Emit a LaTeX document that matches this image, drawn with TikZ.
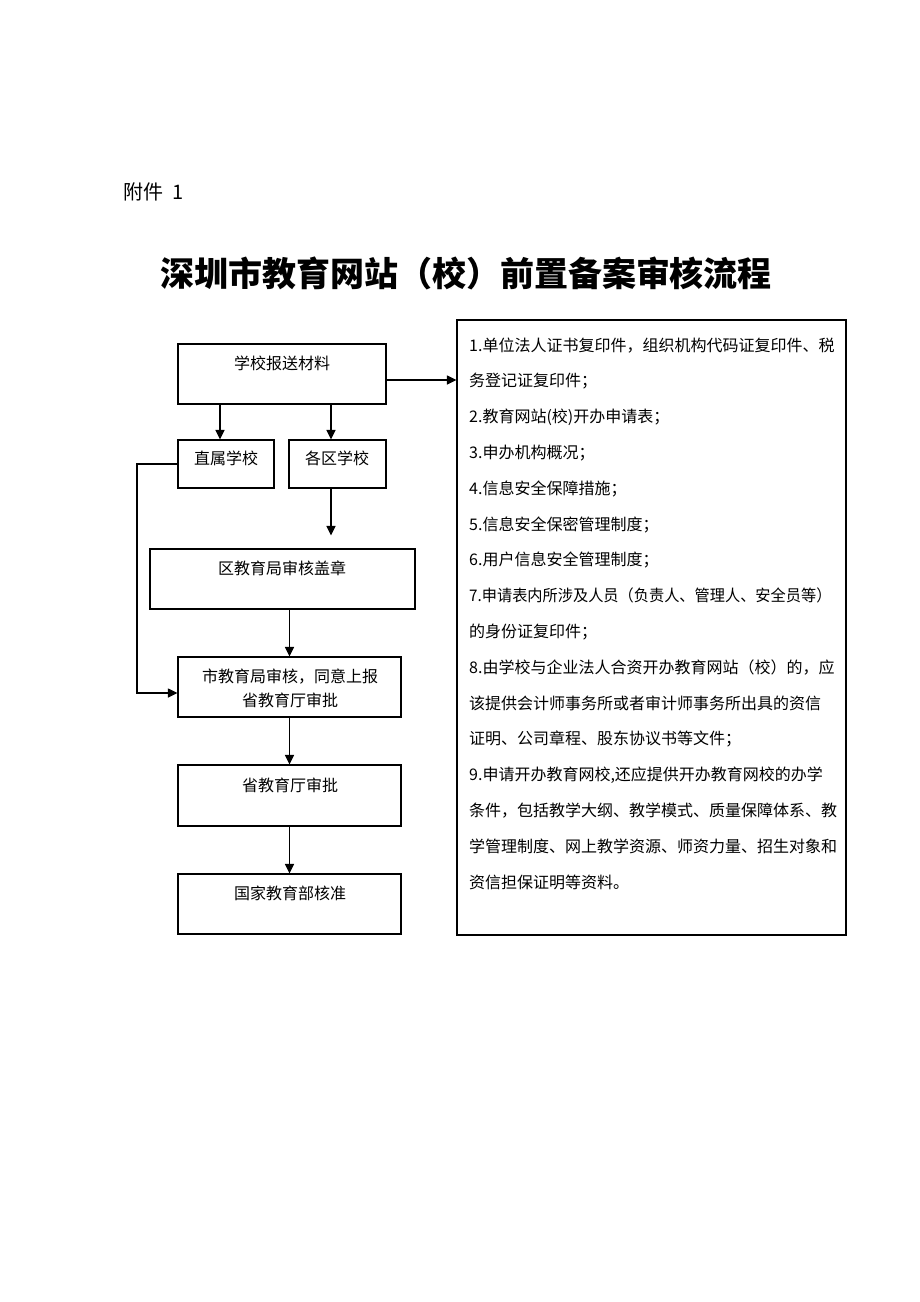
\documentclass[tikz,border=0pt]{standalone}
\usepackage{fontspec}
\newfontfamily\cjk{Noto Sans CJK SC}
\usetikzlibrary{arrows.meta}
\begin{document}
\begin{tikzpicture}[x=1pt,y=-1pt,
  box/.style={draw,line width=1.1pt,inner sep=0},
  lbl/.style={font=\cjk\fontsize{16}{16}\selectfont, anchor=base, inner sep=0},
  item/.style={font=\cjk\fontsize{16}{16}\selectfont, anchor=base west, inner sep=0},
  arr/.style={line width=1.1pt,-{Triangle[length=9.5pt,width=9pt]}},
  thickarr/.style={line width=1.6pt,-{Triangle[length=9.5pt,width=9pt]}}]
\useasboundingbox[fill=white] (0,0) rectangle (920,1302);

% header
\node[font=\cjk\fontsize{20}{20}\selectfont, anchor=base west, inner sep=0] (att) at (123,199) {附件\hspace{0.45em}1};
\node[font=\cjk\bfseries\fontsize{34}{34}\selectfont, anchor=base, inner sep=0] (title) at (466,286) {深圳市教育网站（校）前置备案审核流程};

% boxes
\node[box, minimum width=208pt, minimum height=60pt] (bs) at (282,374) {};
\node[box, minimum width=96pt, minimum height=48pt] (zs) at (226,464) {};
\node[box, minimum width=97pt, minimum height=48pt] (gq) at (337.5,464) {};
\node[box, minimum width=265pt, minimum height=60pt] (qj) at (282.5,579) {};
\node[box, minimum width=223pt, minimum height=60pt] (sj) at (289.5,687) {};
\node[box, minimum width=223pt, minimum height=61pt] (sh) at (289.5,795.5) {};
\node[box, minimum width=223pt, minimum height=60pt] (gj) at (289.5,904) {};
\node[box, minimum width=389pt, minimum height=615pt] (rb) at (651.5,627.5) {};

% box texts
\node[lbl] (tbs) at (282,369) {学校报送材料};
\node[lbl] (tzs) at (226,464) {直属学校};
\node[lbl] (tgq) at (337,464) {各区学校};
\node[lbl] (tqj) at (282,574) {区教育局审核盖章};
\node[lbl] (tsj1) at (290,682) {市教育局审核，同意上报};
\node[lbl] (tsj2) at (290,706) {省教育厅审批};
\node[lbl] (tsh) at (290,791) {省教育厅审批};
\node[lbl] (tgj) at (290,899) {国家教育部核准};

% right box items
\foreach \t [count=\i] in {
  {1.单位法人证书复印件，组织机构代码证复印件、税},
  {务登记证复印件；},
  {2.教育网站(校)开办申请表；},
  {3.申办机构概况；},
  {4.信息安全保障措施；},
  {5.信息安全保密管理制度；},
  {6.用户信息安全管理制度；},
  {\scalebox{0.95}[1]{7.申请表内所涉及人员（负责人、管理人、安全员等）}},
  {的身份证复印件；},
  {8.由学校与企业法人合资开办教育网站（校）的，应},
  {该提供会计师事务所或者审计师事务所出具的资信},
  {证明、公司章程、股东协议书等文件；},
  {9.申请开办教育网校,还应提供开办教育网校的办学},
  {条件，包括教学大纲、教学模式、质量保障体系、教},
  {学管理制度、网上教学资源、师资力量、招生对象和},
  {资信担保证明等资料。}}
  \node[item] (r\i) at (469,{351+35.8*(\i-1)}) {\t};

% connectors
\draw[thickarr] ([xshift=-62pt]bs.south) -- ([xshift=-62pt]bs.south |- zs.north);
\draw[thickarr] ([xshift=49pt]bs.south) -- ([xshift=49pt]bs.south |- gq.north);
\draw[arr, shorten >=13pt] ([xshift=-6.5pt]gq.south) -- ([xshift=-6.5pt]gq.south |- qj.north);
\draw[arr] (sj.north |- qj.south) -- (sj.north);
\draw[arr] (sj.south) -- (sh.north);
\draw[arr] (sh.south) -- (gj.north);
\coordinate (lcx) at (137,0);
\coordinate (sjin) at ([yshift=-6pt]sj.west);
\draw[arr] (zs.west) -- (zs.west -| lcx) -- (lcx |- sjin) -- (sjin);
\draw[arr] ([yshift=-6pt]bs.east) -- ([yshift=-6pt]bs.east -| rb.west);
\end{tikzpicture}
\end{document}
